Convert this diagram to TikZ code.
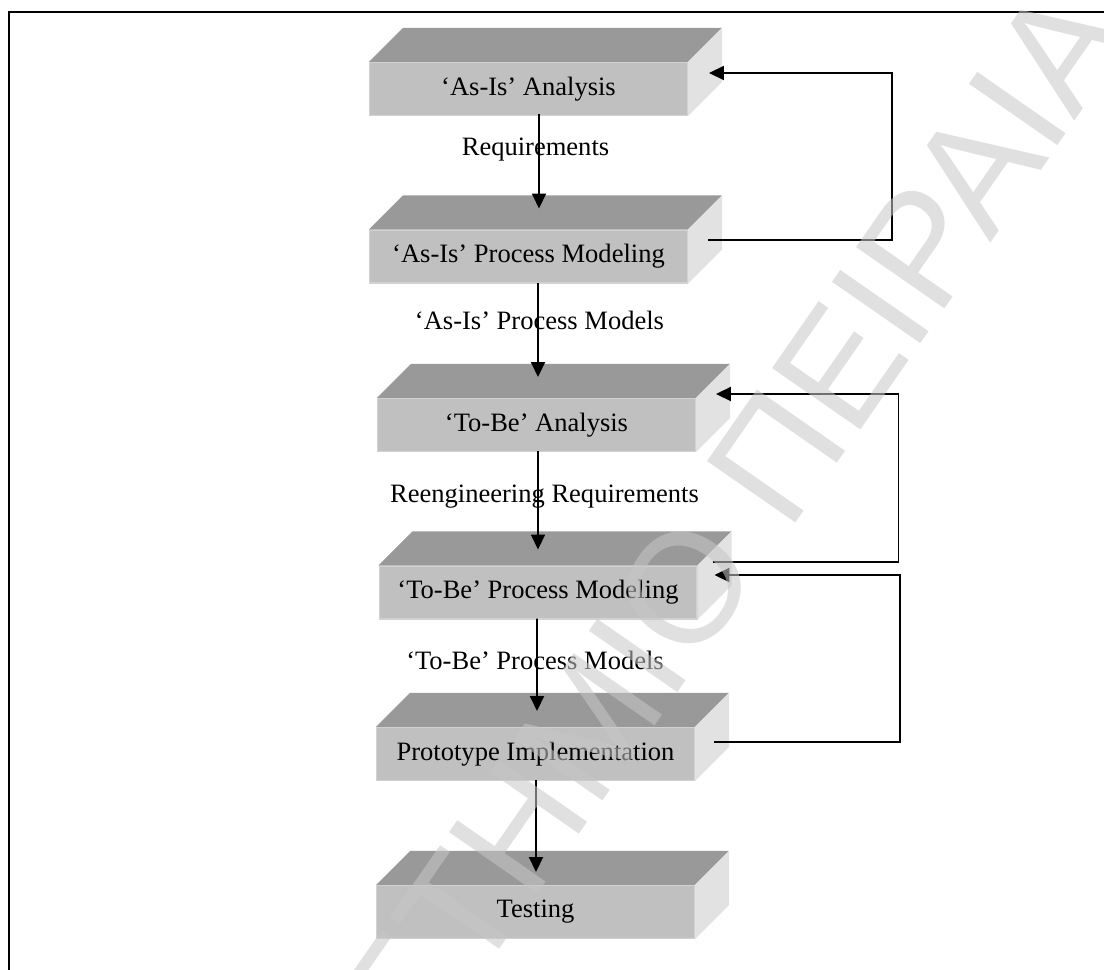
\documentclass[tikz,border=0pt]{standalone}
\usepackage{fontspec}
\setmainfont{Liberation Serif}
\newfontfamily\wmfont{Liberation Sans}
\usetikzlibrary{arrows.meta}
\definecolor{frontgray}{HTML}{C0C0C0}
\definecolor{topgray}{HTML}{999999}
\definecolor{sidegray}{HTML}{E2E2E2}
\definecolor{edgegray}{HTML}{D2D2D2}
\definecolor{wmgray}{gray}{0.78}
\begin{document}
\begin{tikzpicture}[x=0.02cm, y=-0.02cm,
  slab/.style={rectangle, fill=frontgray, draw=edgegray, line width=0.6pt,
    minimum width=6.36cm, minimum height=1.06cm, inner sep=0pt,
    font=\fontsize{15.1}{18}\selectfont},
  flowlabel/.style={inner sep=0pt, font=\fontsize{15.1}{18}\selectfont},
  flow/.style={line width=1pt, -{Triangle[length=8.5pt,width=8pt]}},
  frameline/.style={line width=1.2pt},
  watermark/.style={text=wmgray, text opacity=0.56, inner sep=0pt,
    font=\wmfont\fontsize{89}{89}\selectfont}]
\useasboundingbox (0,0) rectangle (1104,969);

% page frame
\draw[frameline] (9,980) -- (9,12) -- (1115,12);

% front faces of the process slabs
\node[slab] (b1) at (528.5,89)  {‘As-Is’ Analysis};
\node[slab] (b2) at (528.5,256.5) {‘As-Is’ Process Modeling};
\node[slab] (b3) at (536.5,425) {‘To-Be’ Analysis};
\node[slab] (b4) at (538,592.5) {‘To-Be’ Process Modeling};
\node[slab] (b5) at (535.5,754) {Prototype Implementation};
\node[slab] (b6) at (535.5,912) {Testing};

% top and side faces
\foreach \b in {b1,b2,b3,b4,b5,b6} {
  \fill[topgray] (\b.north west) -- ++(34,-34) -- ([shift={(34,-34)}]\b.north east) -- (\b.north east) -- cycle;
  \fill[sidegray] (\b.north east) -- ++(34,-34) -- ([shift={(34,-34)}]\b.south east) -- (\b.south east) -- cycle;
}

% main flow
\draw[flow] ([shift={(10.5,-2)}]b1.south) -- ([shift={(10.5,-21)}]b2.north);
\draw[flow] ([shift={(9.5,-1)}]b2.south) -- ([shift={(1.5,-21)}]b3.north);
\draw[flow] ([shift={(1.5,-1)}]b3.south) -- ([shift={(0,-16)}]b4.north);
\draw[flow] ([shift={(-1,-1)}]b4.south) -- ([shift={(1.5,-16)}]b5.north);
\draw[flow] ([shift={(0.5,-1)}]b5.south) -- ([shift={(0.5,-13)}]b6.north);

% labels on the flow
\node[flowlabel] (l1) at (535.5,150) {Requirements};
\node[flowlabel] (l2) at (539.5,320) {‘As-Is’ Process Models};
\node[flowlabel] (l3) at (544.5,497) {Reengineering Requirements};
\node[flowlabel] (l4) at (535,660) {‘To-Be’ Process Models};

% feedback loops
\draw[flow] ([shift={(20,-16.5)}]b2.east) -- ++(184,0) |- ([shift={(21,-16)}]b1.east);
\draw[flow] ([shift={(15,-30.5)}]b4.east) -- ++(186,0) |- ([shift={(20,-31)}]b3.east);
\draw[flow] ([shift={(19,-12)}]b5.east) -- ++(186,0) |- ([shift={(17,-17.5)}]b4.east);

% watermark
\begin{scope}
  \clip (0,0) rectangle (1104,969);
  \node[watermark, rotate=55.2] (wm) at (565,761) {ΠΑΝΕΠΙΣΤΗΜΙΟ ΠΕΙΡΑΙΑ};
\end{scope}
\end{tikzpicture}
\end{document}
